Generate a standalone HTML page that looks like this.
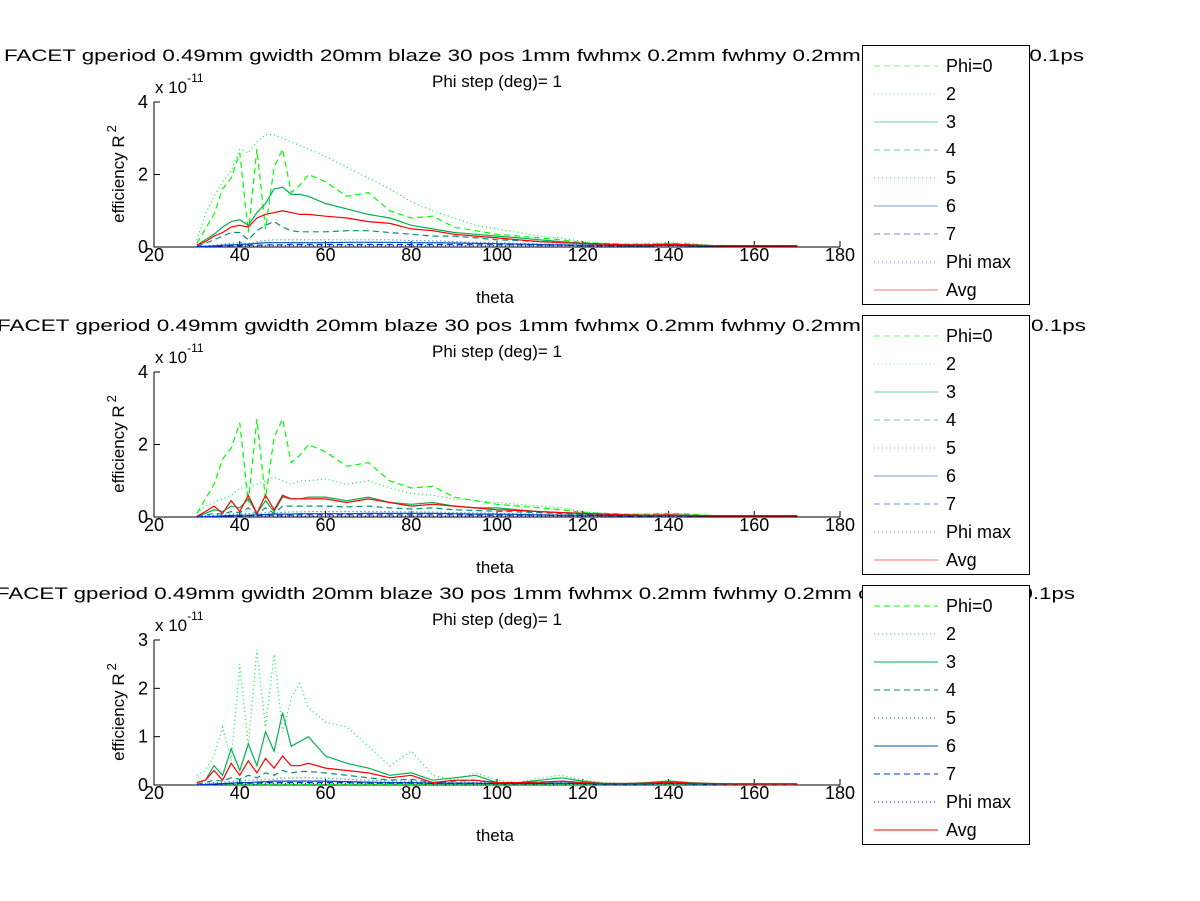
<!DOCTYPE html>
<html><head><meta charset="utf-8"><style>
html,body{margin:0;padding:0;background:#fff;}
svg{display:block;font-family:"Liberation Sans",Arial,sans-serif;}
</style></head><body>
<svg id="fig" width="1200" height="901" viewBox="0 0 1200 901" xmlns="http://www.w3.org/2000/svg">
<rect x="0" y="0" width="1200" height="901" fill="#fff"/>
</svg>
<script>
const theta = [30,32,34,36,38,40,42,44,46,48,50,52,54,56,60,65,70,75,80,85,90,95,100,105,110,115,120,125,130,135,140,145,150,155,160,165,170];
const xTicks = [20,40,60,80,100,120,140,160,180];
const seriesNames = ["Phi=0","2","3","4","5","6","7","Phi max","Avg"];

const p1_phi0 = [0.1,0.5,0.9,1.6,1.9,2.6,0.4,2.7,0.5,2.2,2.7,1.5,1.7,2.0,1.8,1.4,1.5,1.0,0.8,0.85,0.55,0.45,0.35,0.3,0.25,0.2,0.12,0.1,0.08,0.08,0.1,0.08,0.04,0.03,0.03,0.03,0.03];
const p1_s2 = [0.2,0.9,1.4,1.8,2.1,2.7,2.6,2.9,3.1,3.1,3.0,2.9,2.8,2.7,2.5,2.2,1.9,1.6,1.25,1.0,0.8,0.6,0.5,0.4,0.3,0.25,0.15,0.1,0.08,0.1,0.12,0.1,0.05,0.04,0.04,0.04,0.04];
const p1_s3 = [0.05,0.2,0.35,0.55,0.7,0.75,0.6,0.95,1.2,1.6,1.65,1.45,1.45,1.4,1.2,1.05,0.9,0.8,0.6,0.5,0.4,0.35,0.3,0.25,0.2,0.15,0.1,0.08,0.06,0.06,0.08,0.06,0.04,0.03,0.03,0.03,0.03];
const p1_s4 = [0.02,0.1,0.2,0.3,0.4,0.4,0.2,0.45,0.6,0.7,0.55,0.45,0.42,0.42,0.42,0.45,0.45,0.4,0.35,0.3,0.3,0.25,0.2,0.18,0.15,0.12,0.1,0.08,0.06,0.06,0.07,0.05,0.03,0.03,0.03,0.03,0.03];
const p1_s5 = [0.01,0.03,0.05,0.08,0.1,0.12,0.1,0.15,0.18,0.2,0.2,0.2,0.2,0.2,0.2,0.2,0.2,0.2,0.18,0.17,0.15,0.13,0.12,0.1,0.08,0.07,0.06,0.05,0.04,0.04,0.05,0.04,0.03,0.03,0.03,0.03,0.03];
const p1_s6 = [0.01,0.02,0.03,0.05,0.06,0.07,0.08,0.1,0.12,0.12,0.12,0.12,0.12,0.12,0.12,0.13,0.13,0.13,0.12,0.12,0.11,0.1,0.09,0.08,0.07,0.06,0.05,0.05,0.04,0.04,0.05,0.04,0.03,0.03,0.03,0.03,0.03];
const p1_s7 = [0.01,0.01,0.02,0.03,0.04,0.04,0.05,0.05,0.06,0.06,0.06,0.07,0.07,0.07,0.07,0.07,0.07,0.07,0.07,0.07,0.07,0.06,0.06,0.06,0.05,0.05,0.04,0.04,0.04,0.04,0.05,0.04,0.03,0.03,0.03,0.03,0.03];
const p1_max = [0.0,0.01,0.01,0.02,0.02,0.03,0.03,0.03,0.04,0.04,0.04,0.04,0.04,0.04,0.04,0.04,0.04,0.04,0.04,0.04,0.04,0.04,0.04,0.04,0.04,0.04,0.03,0.03,0.03,0.03,0.04,0.03,0.03,0.03,0.03,0.03,0.03];
const p1_avg = [0.05,0.15,0.3,0.4,0.55,0.6,0.55,0.8,0.9,0.95,1.0,0.95,0.9,0.9,0.85,0.8,0.7,0.65,0.5,0.45,0.35,0.3,0.25,0.2,0.15,0.12,0.1,0.08,0.06,0.06,0.08,0.06,0.04,0.03,0.03,0.03,0.03];

const p2_phi0 = [0.1,0.5,0.9,1.6,1.9,2.6,0.4,2.7,0.5,2.2,2.7,1.5,1.7,2.0,1.8,1.4,1.5,1.0,0.8,0.85,0.55,0.45,0.35,0.3,0.25,0.2,0.12,0.1,0.08,0.08,0.1,0.08,0.04,0.03,0.03,0.03,0.03];
const p2_s2 = [0.1,0.3,0.4,0.5,0.6,0.8,0.8,0.9,1.0,1.1,1.0,0.9,1.0,1.0,1.05,0.9,1.0,0.8,0.65,0.6,0.5,0.45,0.4,0.35,0.3,0.25,0.15,0.1,0.08,0.08,0.1,0.08,0.04,0.03,0.03,0.03,0.03];
const p2_s3 = [0.02,0.1,0.2,0.15,0.3,0.25,0.5,0.1,0.45,0.15,0.55,0.5,0.5,0.55,0.55,0.45,0.55,0.4,0.35,0.4,0.3,0.25,0.25,0.2,0.15,0.12,0.1,0.08,0.06,0.05,0.06,0.04,0.03,0.03,0.03,0.03,0.03];
const p2_s4 = [0.01,0.05,0.1,0.08,0.15,0.12,0.25,0.08,0.25,0.1,0.3,0.3,0.3,0.3,0.3,0.28,0.3,0.25,0.22,0.25,0.2,0.18,0.16,0.14,0.12,0.1,0.08,0.06,0.05,0.04,0.05,0.04,0.03,0.03,0.03,0.03,0.03];
const p2_s5 = [0.01,0.03,0.05,0.05,0.08,0.08,0.1,0.08,0.12,0.1,0.13,0.14,0.14,0.15,0.15,0.15,0.15,0.15,0.14,0.14,0.12,0.11,0.1,0.09,0.08,0.07,0.06,0.05,0.04,0.04,0.05,0.04,0.03,0.03,0.03,0.03,0.03];
const p2_s6 = [0.0,0.01,0.02,0.03,0.04,0.05,0.05,0.06,0.07,0.08,0.08,0.08,0.09,0.09,0.09,0.09,0.1,0.1,0.1,0.1,0.09,0.08,0.08,0.07,0.06,0.05,0.05,0.04,0.04,0.04,0.04,0.04,0.03,0.03,0.03,0.03,0.03];
const p2_s7 = [0.0,0.01,0.01,0.02,0.03,0.03,0.04,0.04,0.05,0.05,0.05,0.05,0.06,0.06,0.06,0.06,0.06,0.06,0.06,0.06,0.06,0.05,0.05,0.05,0.05,0.04,0.04,0.04,0.03,0.03,0.04,0.03,0.03,0.03,0.03,0.03,0.03];
const p2_max = [0.0,0.0,0.01,0.01,0.02,0.02,0.02,0.03,0.03,0.03,0.03,0.03,0.03,0.03,0.03,0.03,0.03,0.03,0.03,0.03,0.03,0.03,0.03,0.03,0.03,0.03,0.03,0.03,0.03,0.03,0.03,0.03,0.03,0.03,0.03,0.03,0.03];
const p2_avg = [0.02,0.15,0.3,0.1,0.45,0.15,0.6,0.1,0.6,0.2,0.6,0.5,0.5,0.5,0.5,0.4,0.5,0.4,0.3,0.35,0.3,0.25,0.2,0.18,0.15,0.12,0.1,0.08,0.06,0.05,0.06,0.04,0.03,0.03,0.03,0.03,0.03];

const p3_phi0 = [0.01,0.01,0.01,0.01,0.01,0.01,0.01,0.01,0.01,0.01,0.01,0.01,0.01,0.01,0.01,0.01,0.01,0.01,0.01,0.01,0.01,0.01,0.01,0.01,0.01,0.01,0.01,0.01,0.01,0.01,0.01,0.01,0.01,0.01,0.01,0.01,0.01];
const p3_s2 = [0.2,0.3,0.6,1.2,0.5,2.5,0.8,2.8,1.2,2.7,1.1,1.8,2.1,1.6,1.3,1.2,0.8,0.4,0.7,0.2,0.1,0.25,0.1,0.05,0.15,0.2,0.1,0.05,0.03,0.05,0.1,0.05,0.03,0.03,0.03,0.03,0.03];
const p3_s3 = [0.05,0.1,0.4,0.2,0.75,0.3,0.85,0.4,1.1,0.7,1.5,0.8,0.9,1.0,0.6,0.45,0.35,0.2,0.25,0.1,0.15,0.2,0.05,0.05,0.1,0.15,0.08,0.03,0.03,0.05,0.08,0.05,0.03,0.02,0.02,0.02,0.02];
const p3_s4 = [0.02,0.05,0.1,0.08,0.15,0.12,0.2,0.15,0.25,0.2,0.3,0.25,0.28,0.28,0.25,0.2,0.15,0.1,0.12,0.05,0.08,0.1,0.03,0.03,0.05,0.08,0.05,0.02,0.02,0.03,0.05,0.03,0.02,0.02,0.02,0.02,0.02];
const p3_s5 = [0.01,0.03,0.05,0.05,0.08,0.08,0.1,0.1,0.12,0.12,0.15,0.15,0.15,0.15,0.14,0.12,0.1,0.08,0.08,0.05,0.05,0.06,0.03,0.03,0.04,0.05,0.04,0.02,0.02,0.03,0.04,0.03,0.02,0.02,0.02,0.02,0.02];
const p3_s6 = [0.0,0.01,0.02,0.03,0.04,0.05,0.05,0.06,0.07,0.08,0.08,0.08,0.08,0.08,0.08,0.07,0.06,0.05,0.05,0.04,0.04,0.04,0.03,0.03,0.03,0.04,0.03,0.02,0.02,0.03,0.04,0.03,0.02,0.02,0.02,0.02,0.02];
const p3_s7 = [0.0,0.01,0.01,0.02,0.03,0.03,0.04,0.04,0.05,0.05,0.05,0.05,0.05,0.05,0.05,0.05,0.04,0.04,0.04,0.03,0.03,0.03,0.03,0.03,0.03,0.03,0.03,0.02,0.02,0.02,0.03,0.02,0.02,0.02,0.02,0.02,0.02];
const p3_max = [0.0,0.0,0.01,0.01,0.02,0.02,0.02,0.02,0.03,0.03,0.03,0.03,0.03,0.03,0.03,0.03,0.03,0.03,0.03,0.02,0.02,0.02,0.02,0.02,0.02,0.02,0.02,0.02,0.02,0.02,0.02,0.02,0.02,0.02,0.02,0.02,0.02];
const p3_avg = [0.05,0.1,0.3,0.1,0.45,0.2,0.5,0.25,0.55,0.35,0.6,0.4,0.4,0.45,0.35,0.3,0.25,0.15,0.2,0.05,0.1,0.1,0.05,0.05,0.06,0.08,0.05,0.03,0.03,0.04,0.06,0.04,0.03,0.02,0.02,0.02,0.02];

const yTicks1 = [0,2,4];
const yTicks3 = [0,1,2,3];

const styles = [
  {c:"#00ff00", d:"6,4"},
  {c:"#00ee44", d:"1,3"},
  {c:"#00b050", d:""},
  {c:"#00907a", d:"6,4"},
  {c:"#007a9a", d:"1,3"},
  {c:"#0050b8", d:""},
  {c:"#0030d0", d:"6,4"},
  {c:"#0010ff", d:"1,3"},
  {c:"#ff0000", d:""}
];

const panels = [
  {top:102, ymax:4, ticks:yTicks1, series:[p1_phi0,p1_s2,p1_s3,p1_s4,p1_s5,p1_s6,p1_s7,p1_max,p1_avg], tx:4, tl:1080, legTop:45, legOp:0.55},
  {top:372, ymax:4, ticks:yTicks1, series:[p2_phi0,p2_s2,p2_s3,p2_s4,p2_s5,p2_s6,p2_s7,p2_max,p2_avg], tx:-3, tl:1089, legTop:315, legOp:0.55},
  {top:640, ymax:3, ticks:yTicks3, series:[p3_phi0,p3_s2,p3_s3,p3_s4,p3_s5,p3_s6,p3_s7,p3_max,p3_avg], tx:-4, tl:1079, legTop:585, legOp:1}
];

const NS = "http://www.w3.org/2000/svg";
const svg = document.getElementById("fig");
function mk(tag, attrs, parent, text){
  const e = document.createElementNS(NS, tag);
  for (const k in attrs) e.setAttribute(k, attrs[k]);
  if (text !== undefined) e.textContent = text;
  (parent||svg).appendChild(e);
  return e;
}
const X0 = 154, X1 = 840, H = 145;
function xs(t){ return X0 + (t - 20) / 160 * (X1 - X0); }

panels.forEach((p, pi) => {
  const g = mk("g", {});
  
  
  const base = p.top + H;
  const ys = v => base - v / p.ymax * H;

  const t1 = mk("text", {x:p.tx, y:p.top-41, "font-size":"17", textLength:p.tl, lengthAdjust:"spacingAndGlyphs"}, g, "FACET gperiod 0.49mm gwidth 20mm blaze 30 pos 1mm fwhmx 0.2mm fwhmy 0.2mm charge 3nC sigt 0.1ps");
  
  
  const t2 = mk("text", {x:497, y:p.top-15, "font-size":"17", "text-anchor":"middle"}, g, "Phi step (deg)= 1");
  
  

  const ax = mk("path", {d:`M${X0} ${p.top}V${base}H${X1}`, fill:"none", stroke:"#000", "stroke-width":"1"}, g);
  
  
  xTicks.forEach(t => {
    const x = xs(t);
    const tk = mk("line", {x1:x, x2:x, y1:base, y2:base-6, stroke:"#000"}, g);
    
    
    const tl = mk("text", {x:x, y:base+14, "font-size":"18", "text-anchor":"middle"}, g, String(t));
    
    
  });
  p.ticks.forEach(v => {
    const y = ys(v);
    const tk = mk("line", {x1:X0, x2:X0+6, y1:y, y2:y, stroke:"#000"}, g);
    
    
    const tl = mk("text", {x:X0-6, y:y+6, "font-size":"18", "text-anchor":"end"}, g, String(v));
    
    
  });
  const ex = mk("text", {x:155, y:p.top-9, "font-size":"17"}, g);
  
  
  mk("tspan", {}, ex, "x 10");
  mk("tspan", {dy:"-11", "font-size":"12"}, ex, "-11");
  const yl = mk("text", {transform:`translate(124 ${p.top+72}) rotate(-90)`, "font-size":"17", "text-anchor":"middle"}, g);
  
  
  mk("tspan", {}, yl, "efficiency R");
  mk("tspan", {dy:"-8", dx:"3", "font-size":"13"}, yl, "2");
  const xl = mk("text", {x:495, y:base+56, "font-size":"17", "text-anchor":"middle"}, g, "theta");
  
  

  p.series.forEach((arr, si) => {
    const st = styles[si];
    const d = arr.map((v, i) => (i ? "L" : "M") + xs(theta[i]).toFixed(1) + " " + ys(v).toFixed(1)).join("");
    const pa = mk("path", {d:d, fill:"none", stroke:st.c, "stroke-width":"1.2"}, g);
    if (st.d) pa.setAttribute("stroke-dasharray", st.d);
    
    
  });

  const lg = mk("g", {}, g);
  
  
  mk("rect", {x:862.5, y:p.legTop+0.5, width:167, height:259, fill:"#fff", stroke:"#000"}, lg);
  seriesNames.forEach((n, si) => {
    const y = p.legTop + 21 + si * 28;
    const st = styles[si];
    const ln = mk("line", {x1:874, x2:938, y1:y, y2:y, stroke:st.c, "stroke-width":"1", opacity:p.legOp}, lg);
    if (st.d) ln.setAttribute("stroke-dasharray", st.d);
    
    
    const tx = mk("text", {x:946, y:y+6, "font-size":"18"}, lg, n);
    
    
  });
});
</script>
</body></html>
